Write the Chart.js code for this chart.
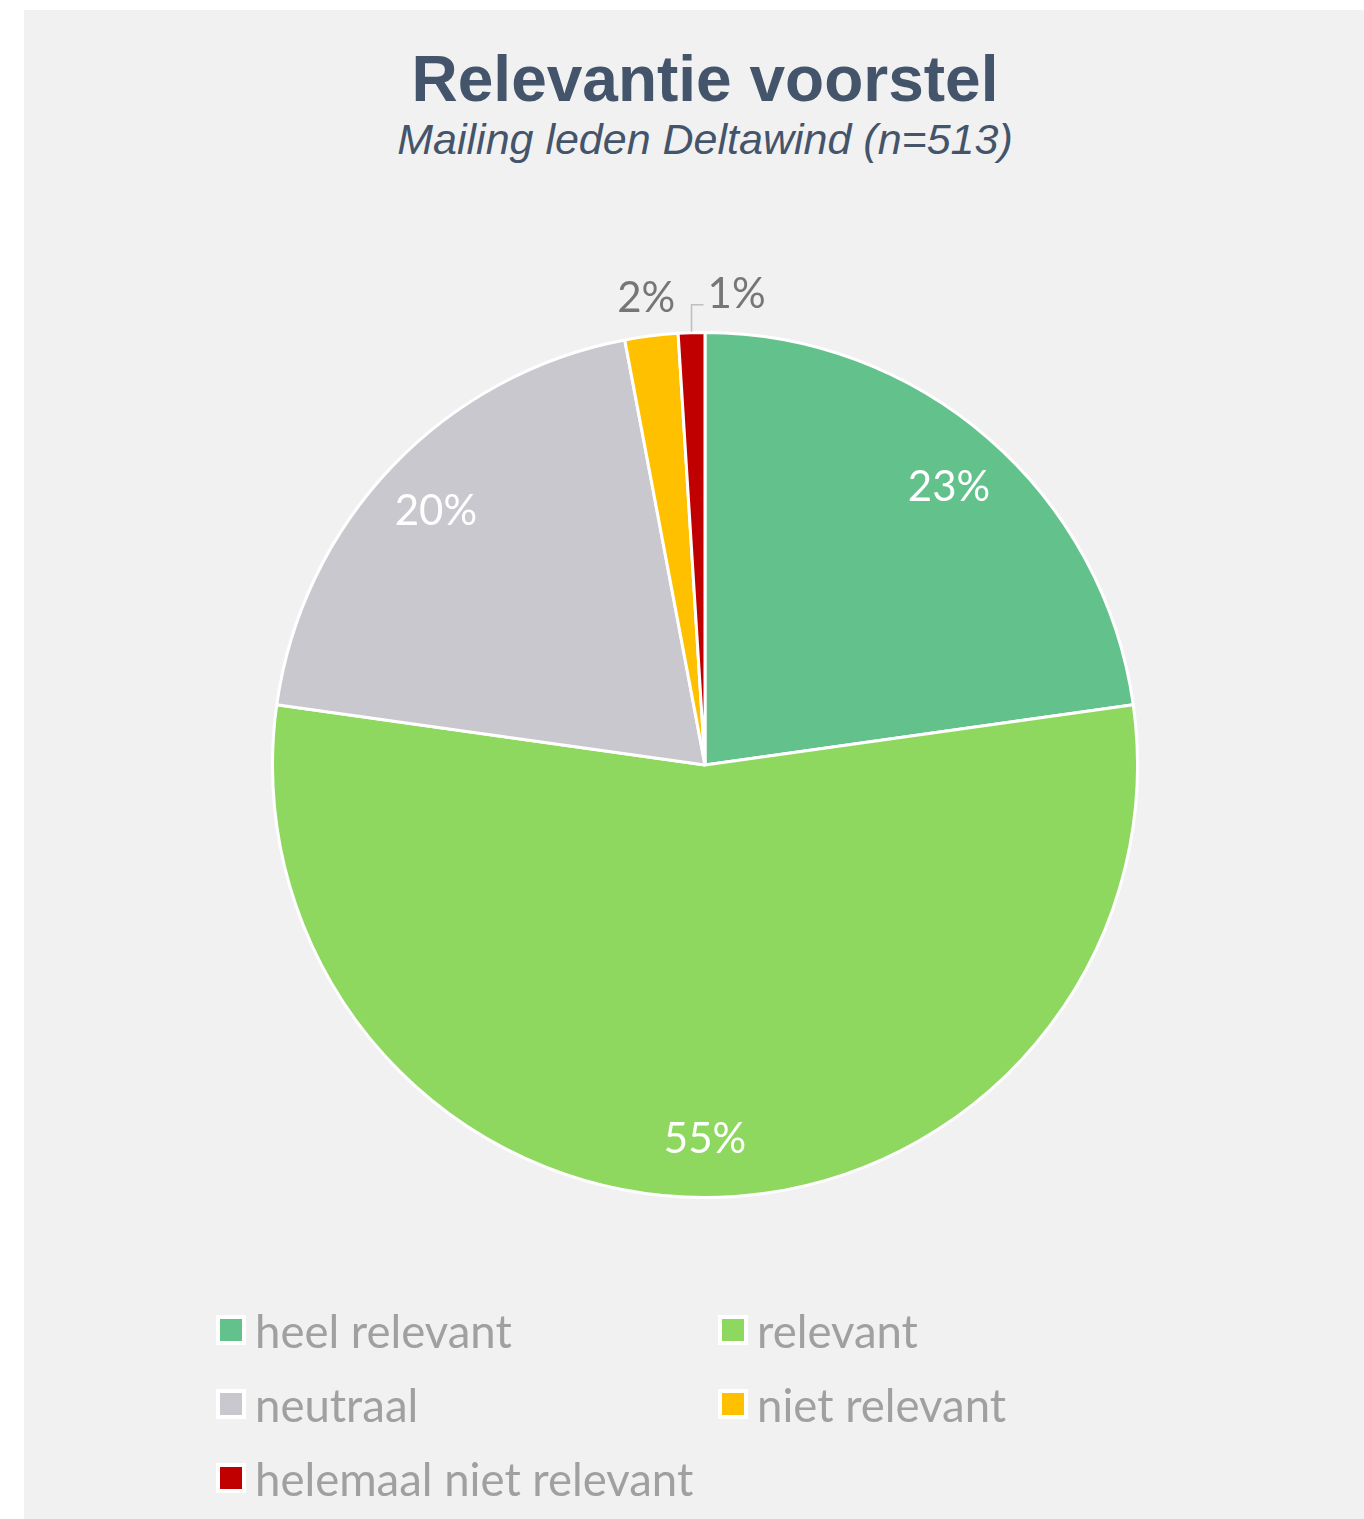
<!DOCTYPE html>
<html>
<head>
<meta charset="utf-8">
<script src="https://cdn.jsdelivr.net/npm/chart.js@4/dist/chart.umd.min.js"></script>
<style>
  body { margin: 0; background: #fff; width: 1364px; height: 1519px; overflow: hidden; position: relative; }
  #panel { position: absolute; left: 24px; top: 10px; width: 1340px; height: 1509px; background: #f1f1f1; }
  #myChart { position: absolute; left: 24px; top: 10px; }
  .title { position: absolute; left: 0; width: 1410px; text-align: center; color: #44546a; font-family: "Liberation Sans", Arial, sans-serif; line-height: 1; white-space: nowrap; }
  #title { top: 47px; font-size: 64px; font-weight: bold; }
  #subtitle { top: 118px; font-size: 43px; font-style: italic; }
  .legend-item { position: absolute; display: flex; align-items: center; height: 74px; white-space: nowrap;
    font-family: Lato, "Open Sans", sans-serif; font-size: 45.5px; color: #a0a0a0; }
  .legend-box { width: 22px; height: 22px; border: 4px solid #fff; margin-right: 9px; }
</style>
</head>
<body>
<div id="panel"></div>
<div class="title" id="title">Relevantie voorstel</div>
<div class="title" id="subtitle">Mailing leden Deltawind (n=513)</div>
<canvas id="myChart" width="1340" height="1509"></canvas>
<div id="legend"></div>
<script>
const labels = [
  "heel relevant",
  "relevant",
  "neutraal",
  "niet relevant",
  "helemaal niet relevant",
];
const percentages = [23, 55, 20, 2, 1];
const colors = ["#63c18c", "#8fd860", "#c9c8ce", "#ffc000", "#c00000"];

// small slices get their label outside the pie
const insideMin = 5;

const sliceLabels = {
  id: "sliceLabels",
  afterDatasetsDraw(chart) {
    const ctx = chart.ctx;
    const meta = chart.getDatasetMeta(0);
    let prevBox = null;
    ctx.save();
    ctx.font = "42px Lato, 'Open Sans', sans-serif";
    ctx.textBaseline = "middle";
    ctx.textAlign = "center";
    meta.data.forEach((arc, i) => {
      const { x, y, startAngle, endAngle, outerRadius } = arc.getProps(
        ["x", "y", "startAngle", "endAngle", "outerRadius"], true);
      const mid = (startAngle + endAngle) / 2;
      const text = percentages[i] + "%";
      const w = ctx.measureText(text).width;
      if (percentages[i] >= insideMin) {
        const r = outerRadius * 0.86;
        ctx.fillStyle = "#ffffff";
        ctx.fillText(text, x + Math.cos(mid) * r, y + Math.sin(mid) * r + 3);
        return;
      }
      const r = outerRadius + 41;
      let lx = x + Math.cos(mid) * r;
      const ly = y + Math.sin(mid) * r + 3;
      const ax = x + Math.cos(mid) * (outerRadius + 1);
      const ay = y + Math.sin(mid) * (outerRadius + 1);
      ctx.fillStyle = "#767676";
      if (prevBox && lx - w / 2 < prevBox.right) {
        // collides with the previous label: push it aside with a leader line
        lx = ax + 16 + w / 2;
        ctx.strokeStyle = "#bfbfbf";
        ctx.lineWidth = 1.5;
        ctx.beginPath();
        ctx.moveTo(ax, ay);
        ctx.lineTo(ax, ly + 10);
        ctx.lineTo(ax + 12, ly + 10);
        ctx.stroke();
      }
      ctx.fillText(text, lx, ly);
      prevBox = { left: lx - w / 2, right: lx + w / 2 };
    });
    ctx.restore();
  },
};

const data = {
  labels: labels,
  datasets: [
    {
      data: percentages,
      backgroundColor: colors,
      borderColor: "#ffffff",
      borderWidth: 3,
    },
  ],
};

const config = {
  type: "pie",
  data: data,
  options: {
    responsive: false,
    animation: false,
    layout: { padding: { left: 247, right: 225, top: 321, bottom: 320 } },
    plugins: {
      legend: { display: false },
      tooltip: { enabled: false },
    },
  },
  plugins: [sliceLabels],
};

var myChart = new Chart(document.getElementById("myChart"), config);

// two-column legend under the pie
const legendEl = document.getElementById("legend");
const colX = [216, 718];
const rowY = [1293, 1367, 1441];
labels.forEach((label, i) => {
  const item = document.createElement("div");
  item.className = "legend-item";
  item.style.left = colX[i % 2] + "px";
  item.style.top = rowY[Math.floor(i / 2)] + "px";
  const box = document.createElement("span");
  box.className = "legend-box";
  box.style.background = colors[i];
  const txt = document.createElement("span");
  txt.textContent = label;
  item.appendChild(box);
  item.appendChild(txt);
  legendEl.appendChild(item);
});
</script>
</body>
</html>
